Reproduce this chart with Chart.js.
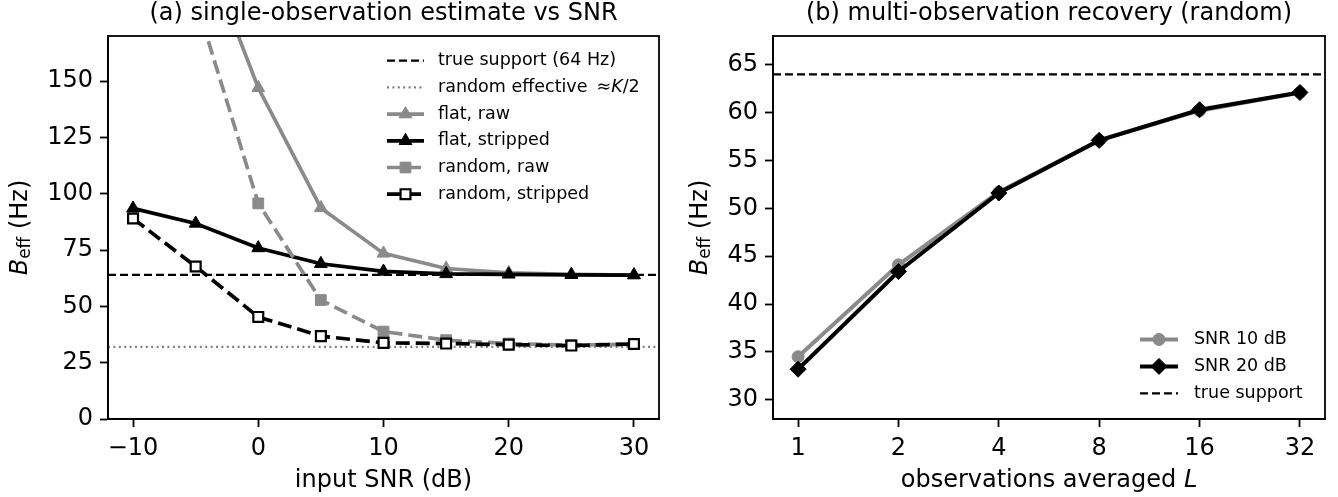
<!DOCTYPE html>
<html>
<head>
<meta charset="utf-8">
<script src="https://cdn.jsdelivr.net/npm/chart.js@4.4.1/dist/chart.umd.min.js"></script>
<style>
  html, body { margin: 0; padding: 0; background: #fff; }
  #wrap { position: relative; width: 1338px; height: 497px; }
  .panel { position: absolute; top: 0; width: 669px; height: 497px; }
</style>
</head>
<body>
<div id="wrap">
  <div class="panel" style="left:0"><canvas id="snrChart" width="669" height="497"></canvas></div>
  <div class="panel" style="left:669px"><canvas id="obsChart" width="669" height="497"></canvas></div>
</div>
<script>
// (a) single-observation estimate vs SNR
const snrDb = [-10, -5, 0, 5, 10, 15, 20, 25, 30];
const flatRaw = [285, 219, 147, 93.7, 73.5, 66.8, 64.9, 64.2, 63.9];
const flatStripped = [93.5, 86.8, 75.9, 68.9, 65.5, 64.4, 64.2, 64.0, 63.9];
const randomRaw = [240, 186, 95.7, 52.8, 38.8, 35.0, 33.5, 32.8, 33.2];
const randomStripped = [89.0, 67.7, 45.3, 36.8, 33.8, 33.5, 33.0, 32.6, 33.3];
const trueSupport = 64;
const randomEffective = 32;
const snrTicks = [-10, 0, 10, 20, 30];
const bTicksA = [0, 25, 50, 75, 100, 125, 150];

// (b) multi-observation recovery
const obsL = [1, 2, 4, 8, 16, 32];
const snr10 = [34.5, 44.1, 51.7, 57.1, 60.2, 62.1];
const snr20 = [33.2, 43.4, 51.6, 57.1, 60.3, 62.1];
const bTicksB = [30, 35, 40, 45, 50, 55, 60, 65];

const FONT = "'DejaVu Sans'";
const GRAY = '#8a8a8a';
const BIG = 24;
Chart.defaults.font.family = FONT;
Chart.defaults.color = '#000';

function fontOf(r) {
  return (r.italic ? 'italic ' : '') + r.size + 'px ' + FONT;
}

// draw a line of text made of several runs (italic / subscript parts)
function drawRuns(ctx, runs, x, y, align) {
  let total = 0;
  runs.forEach(r => { ctx.font = fontOf(r); r.w = ctx.measureText(r.t).width; total += r.w; });
  let cx = align === 'center' ? x - total / 2 : x;
  ctx.textAlign = 'left';
  ctx.textBaseline = 'middle';
  runs.forEach(r => {
    ctx.font = fontOf(r);
    ctx.fillText(r.t, cx, y + (r.dy || 0));
    cx += r.w;
  });
}

const pts = (xs, ys) => xs.map((x, i) => ({ x: x, y: ys[i] }));

function scaleCfg(type, min, max, tickValues, fixSize) {
  return {
    type: type,
    min: min,
    max: max,
    afterBuildTicks: s => { s.ticks = tickValues.map(v => ({ value: v })); },
    afterFit: fixSize,
    grid: { display: true, drawOnChartArea: false, drawTicks: true, tickLength: 8, tickWidth: 1.8, tickColor: '#000' },
    border: { display: true, color: '#000', width: 1.8 },
    ticks: {
      color: '#000', font: { size: BIG }, padding: 7, autoSkip: false, maxRotation: 0,
      callback: v => String(v).replace('-', '\u2212')
    }
  };
}

// frame, titles, axis labels and a matplotlib-like legend
const decor = {
  id: 'decor',
  afterDatasetsDraw(chart, args, o) {
    const { ctx, chartArea: a } = chart;
    ctx.save();
    ctx.strokeStyle = '#000';
    ctx.lineWidth = 1.8;
    ctx.strokeRect(a.left, a.top, a.right - a.left, a.bottom - a.top);
    ctx.fillStyle = '#000';
    const mid = (a.left + a.right) / 2;
    drawRuns(ctx, [{ t: o.title, size: BIG }], mid, 14, 'center');
    drawRuns(ctx, o.xLabel, mid, 481, 'center');
    ctx.translate(o.yLabelX, (a.top + a.bottom) / 2);
    ctx.rotate(-Math.PI / 2);
    drawRuns(ctx, [{ t: 'B', size: BIG, italic: true }, { t: 'eff', size: 17, dy: 5 }, { t: ' (Hz)', size: BIG }], 0, 0, 'center');
    ctx.restore();

    // legend
    const L = o.legend;
    chart.data.datasets.forEach((ds, i) => {
      const y = L.y0 + i * L.dy;
      ctx.save();
      ctx.strokeStyle = ds.borderColor;
      ctx.lineWidth = ds.borderWidth;
      ctx.setLineDash(ds.borderDash || []);
      ctx.beginPath();
      ctx.moveTo(L.x0, y);
      ctx.lineTo(L.x1, y);
      ctx.stroke();
      ctx.setLineDash([]);
      if (ds.pointRadius > 0) {
        ctx.fillStyle = ds.pointBackgroundColor;
        ctx.strokeStyle = ds.pointBorderColor;
        ctx.lineWidth = ds.pointBorderWidth;
        Chart.helpers.drawPoint(ctx, {
          pointStyle: ds.pointStyle, radius: ds.pointRadius, rotation: 0, borderWidth: ds.pointBorderWidth
        }, (L.x0 + L.x1) / 2, y);
      }
      ctx.fillStyle = '#000';
      drawRuns(ctx, ds.richLabel || [{ t: ds.label }], L.textX, y, 'left');
      ctx.restore();
    });
  }
};

const lgSize = 17.5;
function series(label, data, color, dash, style, radius, fill, pbw, order) {
  return {
    label: label, data: data, borderColor: color, borderWidth: 3.7, borderDash: dash,
    pointStyle: style, pointRadius: radius, pointBackgroundColor: fill, pointBorderColor: color,
    pointBorderWidth: pbw, order: order, fill: false, tension: 0
  };
}

new Chart(document.getElementById('snrChart'), {
  type: 'line',
  data: {
    datasets: [
      {
        label: 'true support (64 Hz)', data: pts([-12, 32], [trueSupport, trueSupport]),
        borderColor: '#000', borderWidth: 2.2, borderDash: [8, 4], pointRadius: 0, order: 6
      },
      {
        label: 'random effective \u2248K/2', data: pts([-12, 32], [randomEffective, randomEffective]),
        richLabel: [{ t: 'random effective \u2009\u2248', size: lgSize }, { t: 'K', size: lgSize, italic: true }, { t: '/2', size: lgSize }],
        borderColor: '#808080', borderWidth: 2.2, borderDash: [2, 3.4], pointRadius: 0, order: 5
      },
      series('flat, raw', pts(snrDb, flatRaw), GRAY, [], 'triangle', 7.4, GRAY, 1, 4),
      series('flat, stripped', pts(snrDb, flatStripped), '#000', [], 'triangle', 7.4, '#000', 1, 3),
      series('random, raw', pts(snrDb, randomRaw), GRAY, [14, 6], 'rect', 7.6, GRAY, 1, 2),
      series('random, stripped', pts(snrDb, randomStripped), '#000', [14, 6], 'rect', 7, '#fff', 2.2, 1)
    ].map(d => { if (!d.richLabel) d.richLabel = [{ t: d.label, size: lgSize }]; return d; })
  },
  options: {
    responsive: false,
    animation: false,
    events: [],
    layout: { padding: { top: 36, right: 10, bottom: 0, left: 0 } },
    scales: {
      x: scaleCfg('linear', -12, 32, snrTicks, s => { s.height = 78; }),
      y: scaleCfg('linear', 0, 170, bTicksA, s => { s.width = 108; })
    },
    plugins: {
      legend: { display: false },
      tooltip: { enabled: false },
      decor: {
        title: '(a) single-observation estimate vs SNR',
        xLabel: [{ t: 'input SNR (dB)', size: BIG }],
        yLabelX: 21,
        legend: { x0: 387, x1: 424, textX: 438, y0: 60.7, dy: 26.7 }
      }
    }
  },
  plugins: [decor]
});

new Chart(document.getElementById('obsChart'), {
  type: 'line',
  data: {
    datasets: [
      series('SNR 10 dB', pts(obsL, snr10), GRAY, [], 'circle', 6, GRAY, 1, 3),
      series('SNR 20 dB', pts(obsL, snr20), '#000', [], 'rectRot', 8, '#000', 1, 2),
      {
        label: 'true support', data: pts([2 ** -0.25, 2 ** 5.25], [trueSupport, trueSupport]),
        borderColor: '#000', borderWidth: 2.2, borderDash: [8, 4], pointRadius: 0, order: 1
      }
    ].map(d => { d.richLabel = [{ t: d.label, size: lgSize }]; if (d.borderWidth > 3) d.borderWidth = 4; return d; })
  },
  options: {
    responsive: false,
    animation: false,
    events: [],
    layout: { padding: { top: 36, right: 13, bottom: 0, left: 0 } },
    scales: {
      x: scaleCfg('logarithmic', 2 ** -0.25, 2 ** 5.25, obsL, s => { s.height = 78; }),
      y: scaleCfg('linear', 28, 68, bTicksB, s => { s.width = 104; })
    },
    plugins: {
      legend: { display: false },
      tooltip: { enabled: false },
      decor: {
        title: '(b) multi-observation recovery (random)',
        xLabel: [{ t: 'observations averaged ', size: BIG }, { t: 'L', size: BIG, italic: true }],
        yLabelX: 32,
        legend: { x0: 471, x1: 509, textX: 525, y0: 339.5, dy: 26.9 }
      }
    }
  },
  plugins: [decor]
});
</script>
</body>
</html>
